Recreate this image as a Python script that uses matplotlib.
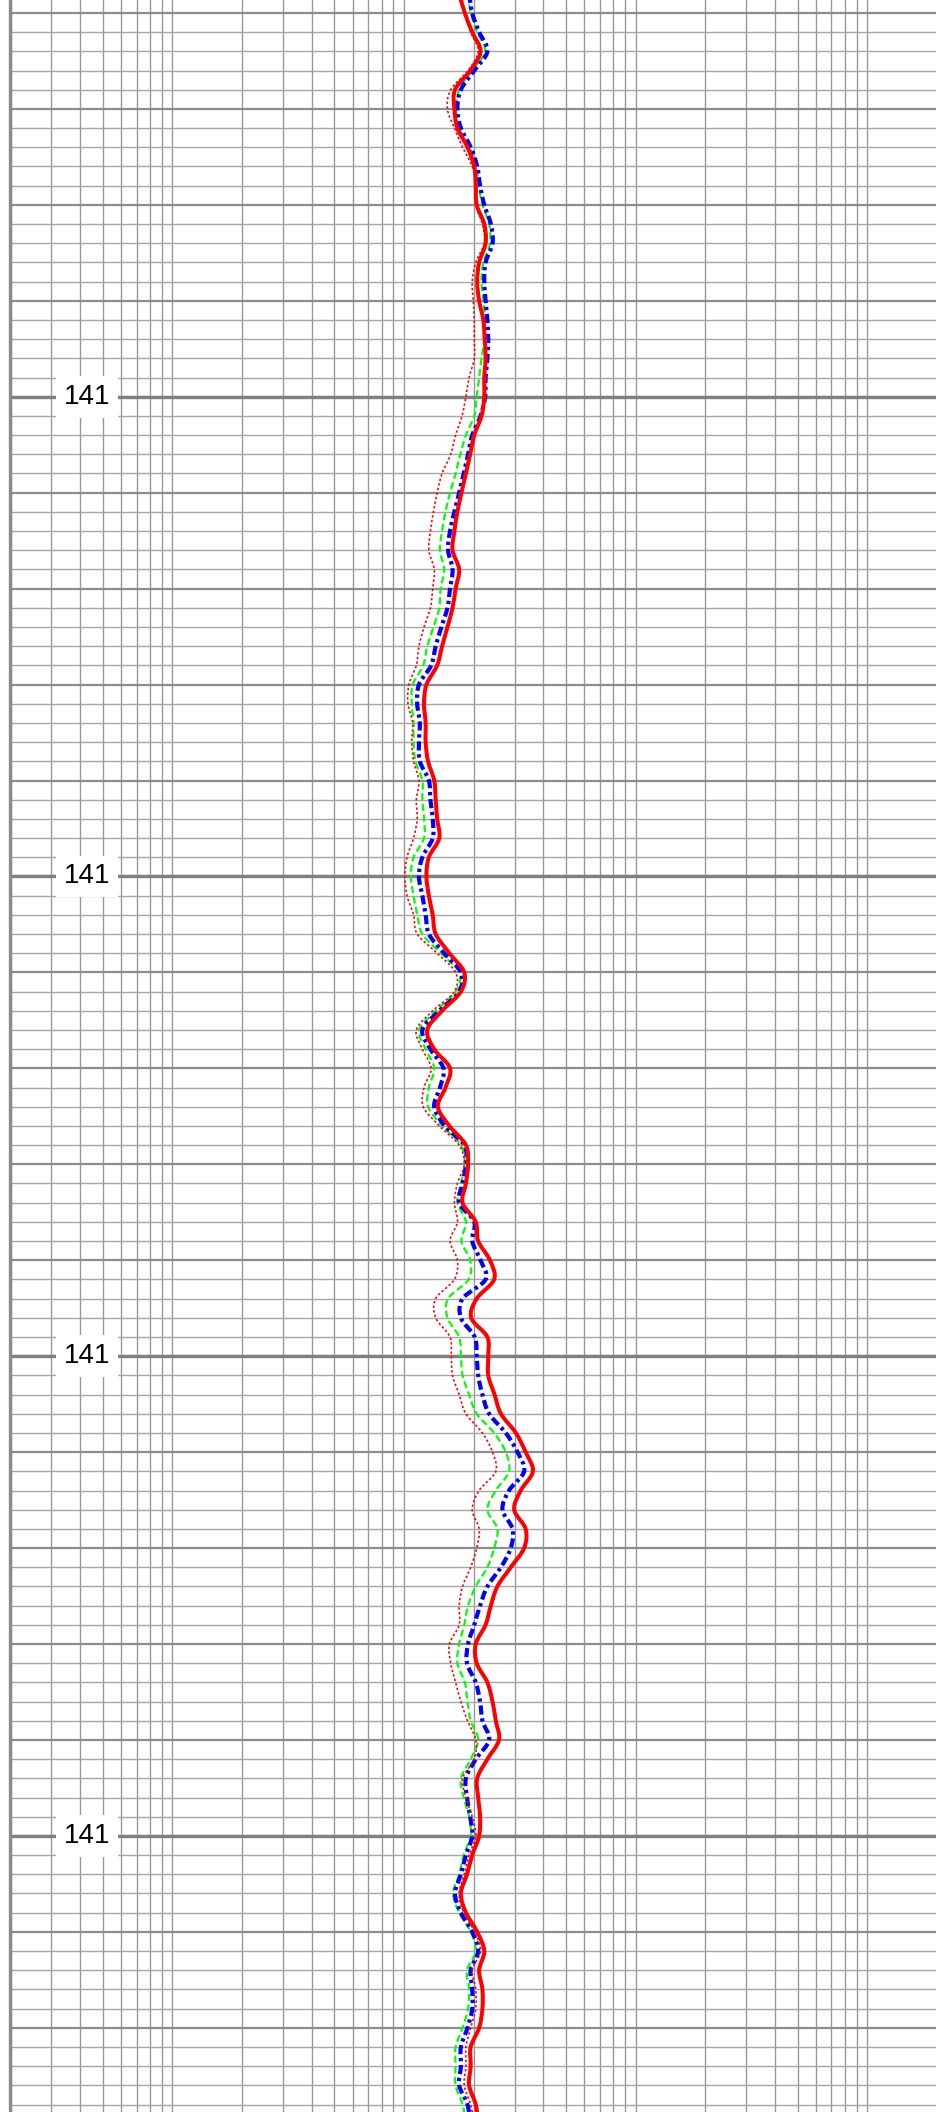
import matplotlib.pyplot as plt
import numpy as np
from matplotlib.path import Path
from matplotlib.patches import PathPatch
from matplotlib.ticker import LogLocator, MultipleLocator, NullFormatter

plt.rcParams['font.family'] = ['Liberation Sans', 'DejaVu Sans']

# depth samples (m), one every 0.008 m
depth = 140.632 + 0.008 * np.arange(112)

# resistivity curves (ohm.m)
res_deep = [
    17.3, 18.3, 19.7, 21.4, 19.3, 16.6, 16.5, 17.0, 18.8, 20.1, 20.4, 20.6, 22.2, 22.5, 21.1, 20.7, 21.1, 22.0, 22.3,
    22.5, 22.2, 22.2, 21.6, 20.1, 19.3, 18.5, 17.7, 17.0, 16.5, 16.2, 17.3, 16.7, 16.2, 15.4, 14.6, 13.9, 12.5, 12.2,
    12.4, 12.4, 12.7, 13.5, 13.7, 13.9, 14.2, 12.8, 12.5, 12.8, 13.3, 13.7, 15.7, 18.2, 17.6, 14.6, 12.6, 13.5,
    15.8, 15.1, 14.0, 15.7, 18.5, 18.9, 18.5, 17.9, 20.4, 20.9, 23.5, 24.5, 20.6, 19.5, 22.9, 23.1, 23.1, 24.6,
    26.2, 30.4, 33.5, 36.0, 31.9, 29.9, 33.5, 33.0, 28.9, 25.3, 23.7, 22.5, 20.4, 20.6, 22.9, 24.1, 24.9, 25.7,
    22.9, 20.7, 20.9, 21.3, 21.1, 19.7, 18.7, 17.6, 18.5, 20.7, 22.2, 21.1, 21.8, 21.8, 21.1, 19.4, 19.4, 19.1, 20.4, 20.9,
]
res_medium = [
    19.1, 19.7, 21.1, 22.9, 20.1, 17.6, 17.0, 17.6, 19.4, 20.7, 21.3, 22.2, 23.7, 24.1, 22.5, 22.2, 22.5, 22.9, 23.1,
    22.9, 22.5, 22.4, 21.4, 19.7, 18.9, 18.1, 17.3, 16.5, 15.8, 15.5, 16.2, 15.8, 15.4, 14.5, 13.7, 13.1, 11.6, 11.4,
    11.7, 11.6, 11.7, 12.8, 13.0, 13.3, 13.3, 12.0, 11.6, 12.0, 12.4, 12.8, 14.9, 17.6, 17.3, 14.2, 12.0, 13.0,
    14.8, 14.3, 13.5, 15.0, 18.2, 18.5, 17.9, 17.3, 20.1, 19.7, 21.4, 22.5, 17.9, 17.6, 20.2, 20.6, 20.9, 21.8,
    23.3, 27.5, 30.9, 33.0, 28.4, 26.6, 29.4, 28.9, 26.2, 22.9, 21.3, 20.1, 18.9, 18.7, 20.4, 21.3, 21.8, 23.3,
    20.4, 18.5, 18.7, 19.3, 19.7, 18.5, 17.6, 16.6, 17.6, 19.7, 20.9, 19.4, 19.7, 19.7, 18.8, 17.6, 17.6, 17.3, 18.8, 19.3,
]
res_shallow = [
    18.9, 19.4, 20.7, 22.4, 19.7, 17.3, 16.8, 17.3, 19.2, 20.5, 21.0, 21.8, 23.3, 23.5, 22.0, 21.6, 22.0, 22.4, 22.2,
    21.6, 21.1, 20.6, 20.1, 18.5, 17.5, 16.7, 15.8, 15.1, 14.6, 14.3, 14.9, 14.4, 14.2, 13.4, 12.6, 12.1, 10.9, 10.8,
    11.0, 11.0, 11.2, 12.0, 12.0, 12.2, 12.2, 11.0, 10.7, 11.0, 11.4, 12.0, 14.4, 17.3, 16.7, 13.7, 11.6, 12.4,
    13.5, 12.8, 12.7, 14.6, 17.6, 18.3, 17.6, 17.0, 18.5, 17.7, 19.3, 19.0, 15.5, 15.4, 17.3, 17.6, 17.9, 19.1,
    20.6, 24.5, 27.5, 28.4, 24.9, 22.9, 25.3, 24.5, 22.9, 20.4, 18.9, 18.2, 17.3, 17.0, 18.3, 18.8, 19.4, 20.9,
    19.4, 17.6, 18.1, 19.1, 19.4, 18.1, 17.3, 16.3, 17.3, 19.4, 20.4, 18.7, 19.1, 18.9, 17.9, 16.7, 16.7, 16.7, 17.9, 18.5,
]
res_micro = [
    17.3, 18.2, 19.4, 20.9, 18.9, 15.9, 15.4, 16.5, 17.9, 19.7, 20.6, 20.4, 21.8, 22.2, 20.4, 19.7, 19.9, 20.1, 20.1,
    20.1, 19.1, 18.5, 17.8, 16.7, 15.9, 14.6, 13.9, 13.4, 13.0, 12.8, 13.5, 13.3, 13.0, 12.2, 11.6, 11.3, 10.5, 10.4,
    10.9, 10.8, 11.0, 11.6, 11.3, 11.4, 11.0, 10.3, 10.1, 10.3, 11.0, 11.4, 13.9, 16.7, 16.5, 13.3, 11.3, 12.0,
    13.1, 12.2, 12.1, 14.2, 17.3, 18.2, 17.0, 16.5, 17.0, 15.8, 17.0, 16.5, 13.7, 13.7, 15.8, 16.0, 16.2, 17.3,
    18.5, 21.8, 24.1, 24.9, 21.1, 19.7, 21.1, 20.6, 19.4, 17.9, 17.3, 17.3, 15.7, 15.9, 16.7, 17.6, 18.8, 20.4,
    20.1, 17.9, 18.5, 19.7, 20.4, 19.1, 18.2, 17.3, 18.1, 20.2, 21.4, 19.7, 20.4, 20.4, 19.4, 18.5, 18.5, 18.2, 19.4, 20.1,
]

# labelled depths
label_depths = [140.8, 141.0, 141.2, 141.4]


def smooth_curve(values, depths):
    """Cubic path through every sample (Catmull-Rom handles, log10 in x)."""
    lx = np.log10(np.asarray(values, float))
    d = np.asarray(depths, float)
    px = np.concatenate([[lx[0]], lx, [lx[-1]]])
    pd = np.concatenate([[d[0]], d, [d[-1]]])
    verts = [(values[0], d[0])]
    codes = [Path.MOVETO]
    for i in range(1, len(lx)):
        a, b = i, i + 1  # indices into padded arrays for samples i-1, i
        c1 = (px[a] + (px[b] - px[a - 1]) / 6, pd[a] + (pd[b] - pd[a - 1]) / 6)
        c2 = (px[b] - (px[b + 1] - px[a]) / 6, pd[b] - (pd[b + 1] - pd[a]) / 6)
        verts += [(10 ** c1[0], c1[1]), (10 ** c2[0], c2[1]), (values[i], d[i])]
        codes += [Path.CURVE4] * 3
    return Path(verts, codes)


fig = plt.figure(figsize=(9.37, 21.12), dpi=100)
ax = fig.add_axes([10.5 / 937, 0, 926.5 / 937, 1])

ax.set_xscale('log')
ax.set_xlim(0.2, 2000)
ax.set_ylim(141.5151, 140.6346)

ax.xaxis.set_major_locator(LogLocator(base=10, numticks=10))
ax.xaxis.set_minor_locator(LogLocator(base=10, subs=np.arange(2, 10), numticks=20))
ax.xaxis.set_minor_formatter(NullFormatter())
ax.yaxis.set_major_locator(MultipleLocator(0.04))
ax.yaxis.set_minor_locator(MultipleLocator(0.008))

ax.grid(which='major', axis='y', color='#8c8c8c', lw=1.6)
ax.grid(which='minor', axis='y', color='#a6a6a6', lw=1.0)
ax.grid(which='both', axis='x', color='#959595', lw=0.95)
for d in label_depths:
    ax.axhline(d, color='#808080', lw=2.4, zorder=1)

ax.tick_params(which='both', length=0, labelbottom=False, labelleft=False)
for s in ['top', 'right', 'bottom']:
    ax.spines[s].set_visible(False)
ax.spines['left'].set_color('#8a8a8a')
ax.spines['left'].set_linewidth(2.4)
ax.set_axisbelow(True)

for d in label_depths:
    ax.text(0.0826, d, f'{d:.0f}', transform=ax.get_yaxis_transform(),
            ha='center', va='center', fontsize=20, color='black', zorder=3,
            bbox=dict(boxstyle='square,pad=0.28', fc='white', ec='none'))

curves = [
    (res_shallow, '#00ff00', 1.6, (0, (3.2, 1.6)), 4),
    (res_medium, '#0000ff', 3.0, (0, (2.2, 0.9, 0.8, 0.9)), 5),
    (res_micro, '#ff0000', 1.2, (0, (1.4, 1.4)), 6),
    (res_deep, '#ff0000', 2.9, '-', 7),
]
for vals, col, lw, ls, z in curves:
    ax.add_patch(PathPatch(smooth_curve(vals, depth), fill=False, edgecolor=col,
                           lw=lw, ls=ls, zorder=z, joinstyle='round', capstyle='butt'))

fig.savefig('out.png', dpi=100)
